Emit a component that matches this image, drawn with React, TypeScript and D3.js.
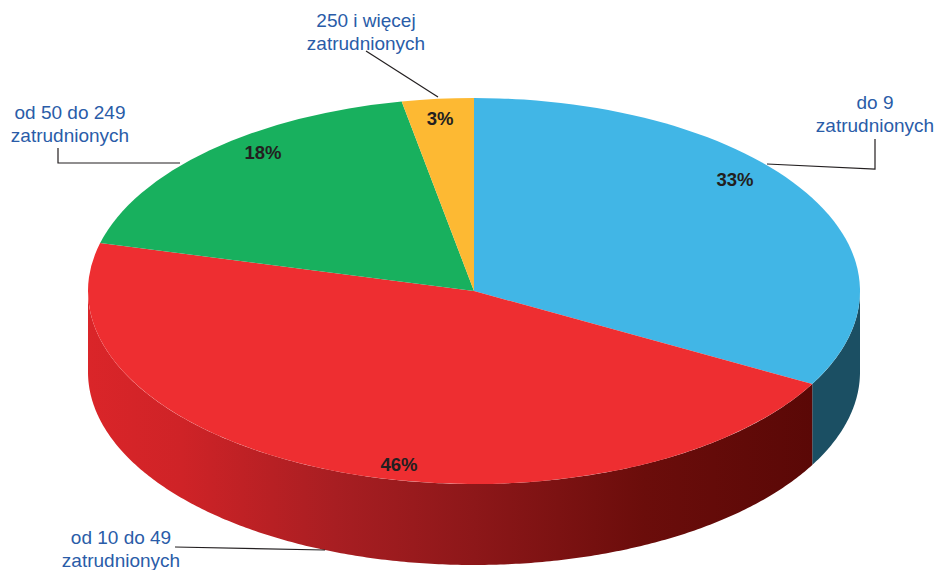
import * as d3 from 'd3';
import { useEffect, useRef } from 'react';

const categories = [
  ['do 9', 'zatrudnionych'],
  ['od 10 do 49', 'zatrudnionych'],
  ['od 50 do 249', 'zatrudnionych'],
  ['250 i więcej', 'zatrudnionych'],
];
const shares = [33, 46, 18, 3];
const topColors = ['#41b6e6', '#ee2e31', '#18b05e', '#fdb933'];

const width = 936;
const height = 570;
const cx = 474;
const cy = 291;
const rx = 386;
const ry = 193;
const depth = 81;

// label placement, one per slice: text centre, percent label, leader polyline
const labelPos = [
  { x: 875, y: 109 },
  { x: 121, y: 544 },
  { x: 70, y: 119 },
  { x: 366, y: 27 },
];
const pctPos = [
  { x: 735, y: 186 },
  { x: 399, y: 471 },
  { x: 263, y: 159 },
  { x: 440, y: 125 },
];
const leaders: [number, number][][] = [
  [[767, 164], [875, 169], [875, 139]],
  [[175, 547], [325, 550]],
  [[58, 148], [58, 163], [180, 163]],
  [[366, 51], [438, 97]],
];

export default function App() {
  const ref = useRef<SVGSVGElement>(null);

  useEffect(() => {
    const svg = d3.select(ref.current);
    svg.selectAll('*').remove();

    const pie = d3
      .pie<number>()
      .sort(null)
      .value((d) => d);
    const slices = pie(shares);

    const defs = svg.append('defs');
    const redSide = defs
      .append('linearGradient')
      .attr('id', 'redSide')
      .attr('gradientUnits', 'userSpaceOnUse')
      .attr('x1', cx - rx)
      .attr('x2', cx + rx)
      .attr('y1', 0)
      .attr('y2', 0);
    redSide.append('stop').attr('offset', '0').attr('stop-color', '#da2529');
    redSide.append('stop').attr('offset', '0.12').attr('stop-color', '#cf2327');
    redSide.append('stop').attr('offset', '0.32').attr('stop-color', '#a81e22');
    redSide.append('stop').attr('offset', '0.5').attr('stop-color', '#8d1719');
    redSide.append('stop').attr('offset', '0.72').attr('stop-color', '#6b0d0b');
    redSide.append('stop').attr('offset', '0.94').attr('stop-color', '#5a0806');

    // side wall, only the front half of the rim is visible
    const rimPoint = (a: number, dy: number): [number, number] => [
      cx + rx * Math.sin(a),
      cy - ry * Math.cos(a) + dy,
    ];
    const line = d3.line();
    const sideFills = ['#1b4f63', 'url(#redSide)'];
    slices.forEach((s, i) => {
      const a0 = Math.max(s.startAngle, Math.PI / 2);
      const a1 = Math.min(s.endAngle, (3 * Math.PI) / 2);
      if (a1 <= a0) return;
      const angles = d3.range(a0, a1, 0.01).concat(a1);
      const pts = angles
        .map((a) => rimPoint(a, 0))
        .concat(angles.slice().reverse().map((a) => rimPoint(a, depth)));
      svg
        .append('path')
        .attr('d', line(pts) + 'Z')
        .attr('fill', sideFills[i]);
    });

    // top face: circular arc squashed into an ellipse
    const arc = d3
      .arc<d3.PieArcDatum<number>>()
      .innerRadius(0)
      .outerRadius(rx);
    svg
      .append('g')
      .attr('transform', `translate(${cx},${cy}) scale(1,${ry / rx})`)
      .selectAll('path')
      .data(slices)
      .enter()
      .append('path')
      .attr('d', arc)
      .attr('fill', (_, i) => topColors[i]);

    svg
      .selectAll('.leader')
      .data(leaders)
      .enter()
      .append('path')
      .attr('class', 'leader')
      .attr('d', (d) => line(d))
      .attr('fill', 'none')
      .attr('stroke', '#231f20')
      .attr('stroke-width', 1.2);

    svg
      .selectAll('.pct')
      .data(shares)
      .enter()
      .append('text')
      .attr('class', 'pct')
      .attr('x', (_, i) => pctPos[i].x)
      .attr('y', (_, i) => pctPos[i].y)
      .attr('text-anchor', 'middle')
      .style('font-family', '"Liberation Sans", sans-serif')
      .style('font-size', '18.5px')
      .style('font-weight', 'bold')
      .attr('fill', '#231f20')
      .text((d) => `${d}%`);

    const labels = svg
      .selectAll('.cat')
      .data(categories)
      .enter()
      .append('text')
      .attr('class', 'cat')
      .attr('text-anchor', 'middle')
      .style('font-family', '"Liberation Sans", sans-serif')
      .style('font-size', '19px')
      .attr('fill', '#2a5ca8');
    labels
      .selectAll('tspan')
      .data((d, i) => d.map((t, j) => ({ t, j, i })))
      .enter()
      .append('tspan')
      .attr('x', (d) => labelPos[d.i].x)
      .attr('y', (d) => labelPos[d.i].y + d.j * 23)
      .text((d) => d.t);
  }, []);

  return (
    <svg
      ref={ref}
      width={width}
      height={height}
      style={{ position: 'absolute', left: 0, top: 0 }}
    />
  );
}
